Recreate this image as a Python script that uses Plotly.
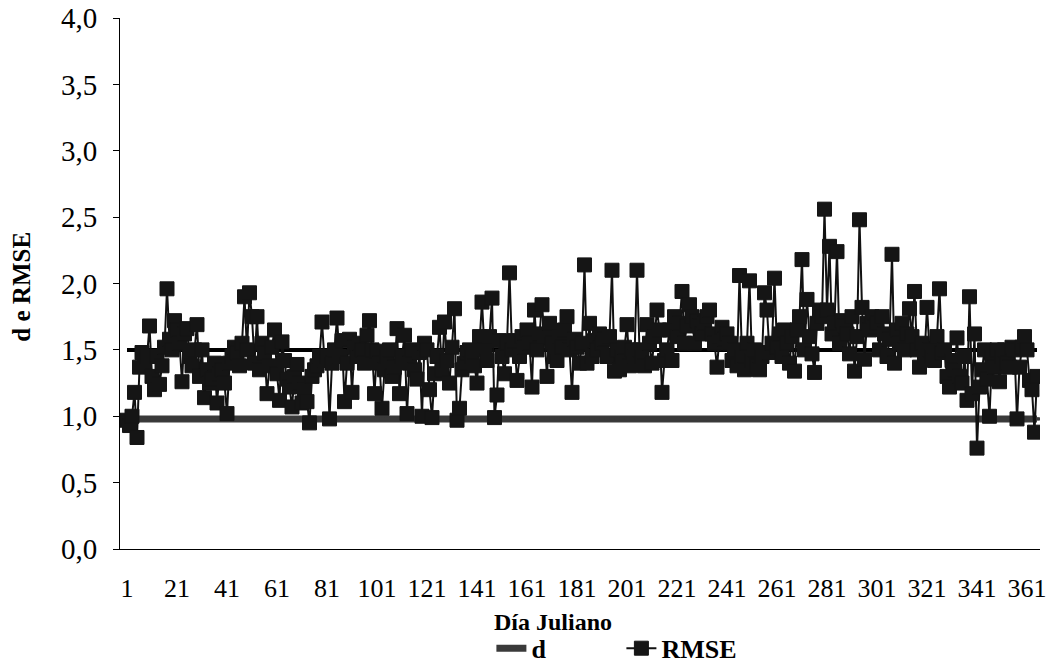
import plotly.graph_objects as go

days = list(range(1, 366))

rmse = [
    0.97, 0.93, 1.00, 1.18, 0.84, 1.37, 1.48, 1.38, 1.45, 1.68, 1.30, 1.20, 1.45, 1.24, 1.38, 1.52, 1.96, 1.58, 1.50, 1.72,
    1.65, 1.55, 1.26, 1.62, 1.66, 1.45, 1.38, 1.50, 1.69, 1.30, 1.50, 1.14, 1.35, 1.25, 1.28, 1.40, 1.10, 1.32, 1.35, 1.25,
    1.02, 1.40, 1.45, 1.52, 1.48, 1.38, 1.55, 1.90, 1.50, 1.93, 1.75, 1.40, 1.75, 1.35, 1.55, 1.48, 1.17, 1.38, 1.52, 1.65,
    1.32, 1.12, 1.56, 1.42, 1.28, 1.22, 1.07, 1.30, 1.39, 1.25, 1.10, 1.20, 1.11, 0.95, 1.30, 1.35, 1.38, 1.45, 1.71, 1.42,
    1.45, 0.98, 1.40, 1.50, 1.74, 1.45, 1.57, 1.11, 1.40, 1.58, 1.18, 1.52, 1.45, 1.55, 1.50, 1.40, 1.61, 1.72, 1.50, 1.17,
    1.49, 1.40, 1.06, 1.35, 1.45, 1.50, 1.30, 1.37, 1.66, 1.17, 1.45, 1.61, 1.02, 1.40, 1.50, 1.35, 1.28, 1.48, 1.00, 1.55,
    1.50, 1.20, 0.99, 1.32, 1.45, 1.67, 1.35, 1.71, 1.42, 1.25, 1.52, 1.81, 0.97, 1.06, 1.35, 1.40, 1.48, 1.50, 1.45, 1.38,
    1.25, 1.60, 1.86, 1.50, 1.42, 1.60, 1.89, 0.99, 1.16, 1.57, 1.45, 1.32, 1.55, 2.08, 1.50, 1.57, 1.27, 1.45, 1.60, 1.52,
    1.65, 1.55, 1.22, 1.80, 1.50, 1.62, 1.84, 1.60, 1.30, 1.70, 1.55, 1.45, 1.42, 1.60, 1.52, 1.65, 1.75, 1.50, 1.18, 1.58,
    1.52, 1.40, 1.55, 2.14, 1.40, 1.70, 1.45, 1.57, 1.50, 1.62, 1.55, 1.58, 1.45, 1.60, 2.10, 1.34, 1.50, 1.35, 1.45, 1.52,
    1.69, 1.38, 1.50, 1.45, 2.10, 1.50, 1.45, 1.38, 1.69, 1.55, 1.40, 1.60, 1.80, 1.65, 1.18, 1.42, 1.50, 1.65, 1.42, 1.75,
    1.60, 1.70, 1.94, 1.55, 1.68, 1.84, 1.75, 1.55, 1.72, 1.68, 1.62, 1.70, 1.75, 1.80, 1.62, 1.55, 1.37, 1.60, 1.67, 1.58,
    1.62, 1.55, 1.42, 1.50, 1.38, 2.06, 1.45, 1.35, 1.55, 2.02, 1.42, 1.50, 1.38, 1.35, 1.45, 1.93, 1.80, 1.48, 1.55, 2.04,
    1.52, 1.62, 1.45, 1.65, 1.55, 1.40, 1.60, 1.34, 1.65, 1.75, 2.18, 1.50, 1.88, 1.60, 1.47, 1.33, 1.70, 1.80, 1.75, 2.56,
    1.80, 2.28, 1.62, 1.70, 2.24, 1.55, 1.72, 1.68, 1.62, 1.47, 1.75, 1.34, 1.60, 2.48, 1.82, 1.43, 1.70, 1.65, 1.75, 1.67,
    1.70, 1.50, 1.75, 1.62, 1.45, 1.58, 2.22, 1.40, 1.65, 1.55, 1.70, 1.50, 1.62, 1.81, 1.60, 1.94, 1.50, 1.37, 1.55, 1.45,
    1.82, 1.50, 1.45, 1.42, 1.60, 1.96, 1.48, 1.50, 1.30, 1.22, 1.42, 1.35, 1.59, 1.30, 1.25, 1.45, 1.12, 1.90, 1.17, 1.62,
    0.76, 1.22, 1.35, 1.50, 1.28, 1.00, 1.45, 1.37, 1.50, 1.26, 1.45, 1.50, 1.40, 1.37, 1.52, 1.50, 0.98, 1.37, 1.52, 1.60,
    1.50, 1.27, 1.20, 0.88, 1.30,
]

d_vals = [
    0.98, 0.98, 0.98, 0.98, 0.98, 0.98, 0.98, 0.98, 0.98, 0.98, 0.98, 0.98, 0.98, 0.98, 0.98, 0.98, 0.98, 0.98, 0.98, 0.98,
    0.98, 0.98, 0.98, 0.98, 0.98, 0.98, 0.98, 0.98, 0.98, 0.98, 0.98, 0.98, 0.98, 0.98, 0.98, 0.98, 0.98, 0.98, 0.98, 0.98,
    0.98, 0.98, 0.98, 0.98, 0.98, 0.98, 0.98, 0.98, 0.98, 0.98, 0.98, 0.98, 0.98, 0.98, 0.98, 0.98, 0.98, 0.98, 0.98, 0.98,
    0.98, 0.98, 0.98, 0.98, 0.98, 0.98, 0.98, 0.98, 0.98, 0.98, 0.98, 0.98, 0.98, 0.98, 0.98, 0.98, 0.98, 0.98, 0.98, 0.98,
    0.98, 0.98, 0.98, 0.98, 0.98, 0.98, 0.98, 0.98, 0.98, 0.98, 0.98, 0.98, 0.98, 0.98, 0.98, 0.98, 0.98, 0.98, 0.98, 0.98,
    0.98, 0.98, 0.98, 0.98, 0.98, 0.98, 0.98, 0.98, 0.98, 0.98, 0.98, 0.98, 0.98, 0.98, 0.98, 0.98, 0.98, 0.98, 0.98, 0.98,
    0.98, 0.98, 0.98, 0.98, 0.98, 0.98, 0.98, 0.98, 0.98, 0.98, 0.98, 0.98, 0.98, 0.98, 0.98, 0.98, 0.98, 0.98, 0.98, 0.98,
    0.98, 0.98, 0.98, 0.98, 0.98, 0.98, 0.98, 0.98, 0.98, 0.98, 0.98, 0.98, 0.98, 0.98, 0.98, 0.98, 0.98, 0.98, 0.98, 0.98,
    0.98, 0.98, 0.98, 0.98, 0.98, 0.98, 0.98, 0.98, 0.98, 0.98, 0.98, 0.98, 0.98, 0.98, 0.98, 0.98, 0.98, 0.98, 0.98, 0.98,
    0.98, 0.98, 0.98, 0.98, 0.98, 0.98, 0.98, 0.98, 0.98, 0.98, 0.98, 0.98, 0.98, 0.98, 0.98, 0.98, 0.98, 0.98, 0.98, 0.98,
    0.98, 0.98, 0.98, 0.98, 0.98, 0.98, 0.98, 0.98, 0.98, 0.98, 0.98, 0.98, 0.98, 0.98, 0.98, 0.98, 0.98, 0.98, 0.98, 0.98,
    0.98, 0.98, 0.98, 0.98, 0.98, 0.98, 0.98, 0.98, 0.98, 0.98, 0.972, 0.98, 0.98, 0.98, 0.98, 0.98, 0.98, 0.98, 0.98, 0.98,
    0.98, 0.98, 0.98, 0.98, 0.98, 0.98, 0.98, 0.98, 0.98, 0.98, 0.98, 0.98, 0.98, 0.98, 0.98, 0.98, 0.98, 0.98, 0.98, 0.98,
    0.98, 0.98, 0.98, 0.98, 0.98, 0.98, 0.98, 0.98, 0.98, 0.98, 0.98, 0.98, 0.98, 0.98, 0.98, 0.98, 0.98, 0.98, 0.98, 0.98,
    0.98, 0.98, 0.972, 0.98, 0.98, 0.98, 0.98, 0.98, 0.98, 0.98, 0.98, 0.98, 0.98, 0.98, 0.98, 0.98, 0.98, 0.98, 0.98, 0.98,
    0.98, 0.98, 0.98, 0.98, 0.98, 0.98, 0.98, 0.98, 0.98, 0.98, 0.98, 0.98, 0.98, 0.98, 0.98, 0.98, 0.98, 0.98, 0.98, 0.98,
    0.98, 0.98, 0.98, 0.98, 0.98, 0.98, 0.98, 0.98, 0.98, 0.98, 0.98, 0.98, 0.98, 0.98, 0.98, 0.98, 0.98, 0.98, 0.98, 0.98,
    0.98, 0.98, 0.98, 0.98, 0.98, 0.98, 0.98, 0.98, 0.98, 0.98, 0.98, 0.98, 0.98, 0.98, 0.98, 0.98, 0.98, 0.98, 0.98, 0.98,
    0.98, 0.98, 0.98, 0.98, 0.98,
]

rmse_ref = 1.5

x_ticks = [1, 21, 41, 61, 81, 101, 121, 141, 161, 181, 201, 221, 241, 261, 281, 301, 321, 341, 361]
x_tick_text = [str(v) for v in x_ticks]
y_ticks = [0.0, 0.5, 1.0, 1.5, 2.0, 2.5, 3.0, 3.5, 4.0]
y_tick_text = ["0,0", "0,5", "1,0", "1,5", "2,0", "2,5", "3,0", "3,5", "4,0"]

FONT = "Liberation Serif"

fig = go.Figure()
fig.add_trace(go.Scatter(
    x=days, y=d_vals, mode="lines+markers", name="d",
    line=dict(color="#3a3a3a", width=7),
    marker=dict(symbol="line-ew", size=7, color="#3a3a3a",
                line=dict(color="#3a3a3a", width=3)),
))
fig.add_trace(go.Scatter(
    x=[days[0], days[-1]], y=[rmse_ref, rmse_ref], mode="lines",
    line=dict(color="black", width=4), showlegend=False, hoverinfo="skip",
))
fig.add_trace(go.Scatter(
    x=days, y=rmse, mode="lines+markers", name="RMSE",
    line=dict(color="#111111", width=2),
    marker=dict(symbol="square", size=14, color="#151515",
                line=dict(color="#151515", width=1)),
))

fig.update_layout(
    width=1050, height=672,
    margin=dict(l=120, r=10, t=18, b=123, autoexpand=False),
    paper_bgcolor="white", plot_bgcolor="white",
    font=dict(family=FONT, color="black"),
    showlegend=True,
    legend=dict(
        orientation="h", x=0.545, xanchor="center", y=-0.187, yanchor="middle",
        font=dict(family=FONT, size=26, color="black", weight="bold"),
        entrywidth=85, entrywidthmode="pixels",
        bgcolor="rgba(0,0,0,0)",
    ),
    xaxis=dict(
        range=[-1.8, 366.2], showgrid=False, zeroline=False, automargin=False,
        showline=True, linecolor="black", linewidth=1,
        tickmode="array", tickvals=x_ticks, ticktext=x_tick_text,
        ticks="", ticklabelstandoff=16,
        tickfont=dict(family=FONT, size=26, color="black"),
    ),
    yaxis=dict(
        range=[0, 4], showgrid=False, zeroline=False, automargin=False,
        showline=True, linecolor="black", linewidth=1,
        tickmode="array", tickvals=y_ticks, ticktext=y_tick_text,
        ticks="outside", ticklen=6, tickcolor="black", tickwidth=1,
        ticklabelstandoff=10,
        tickfont=dict(family=FONT, size=29, color="black"),
    ),
    annotations=[
        dict(text="Día Juliano", xref="paper", yref="paper", x=0.4707, y=-0.1375,
             xanchor="center", yanchor="middle", showarrow=False,
             font=dict(family=FONT, size=24, color="black", weight="bold")),
        dict(text="d e RMSE", xref="paper", yref="paper", x=-0.108, y=0.4934,
             xanchor="center", yanchor="middle", showarrow=False, textangle=-90,
             font=dict(family=FONT, size=25, color="black", weight="bold")),
    ],
)

fig.write_html("out.html")
